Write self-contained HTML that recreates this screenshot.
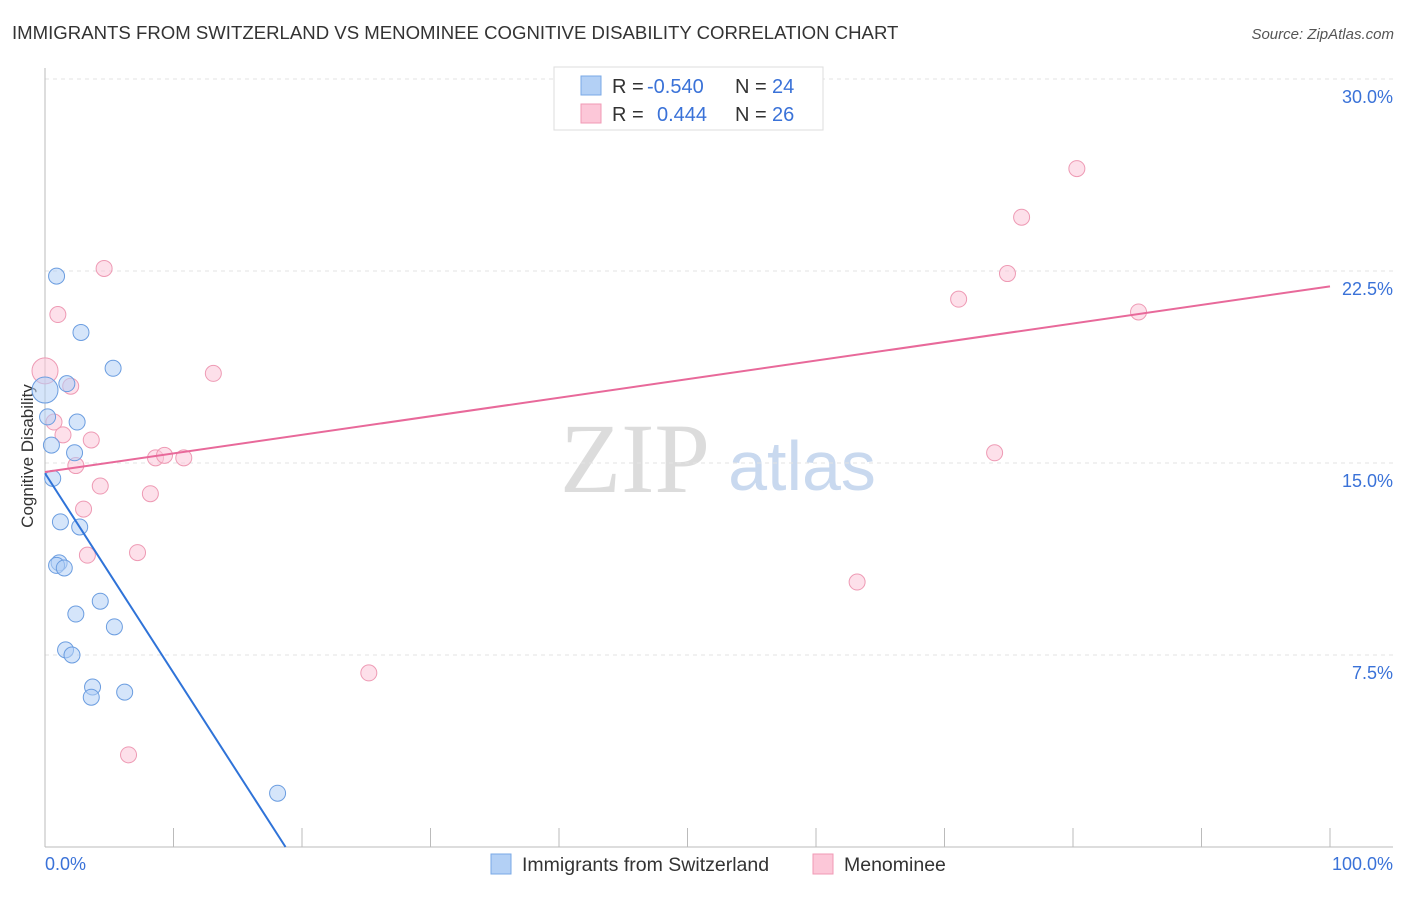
<!DOCTYPE html>
<html><head><meta charset="utf-8"><style>
body{margin:0;background:#fff;font-family:"Liberation Sans",sans-serif}
</style></head><body>
<svg width="1406" height="892" xmlns="http://www.w3.org/2000/svg" font-family="Liberation Sans, sans-serif">
<text x="12" y="39" font-size="18.6" fill="#333">IMMIGRANTS FROM SWITZERLAND VS MENOMINEE COGNITIVE DISABILITY CORRELATION CHART</text>
<text x="1394" y="39" font-size="15" fill="#555" text-anchor="end" font-style="italic">Source: ZipAtlas.com</text>
<text x="635" y="492" font-size="100" fill="#dcdcdc" style="font-family:'Liberation Serif',serif" text-anchor="middle">ZIP</text>
<text x="802" y="490" font-size="70" fill="#c9d9ef" text-anchor="middle">atlas</text>
<g id="grid"></g>
<g id="axes"></g>
<text x="33" y="456" font-size="17" fill="#333" text-anchor="middle" transform="rotate(-90 33 456)">Cognitive Disability</text>
<g id="marks"></g>
<g>
<rect x="554" y="67" width="269" height="63" fill="#fff" stroke="#ddd"/>
<rect x="581" y="76" width="20" height="19" fill="#b3d0f5" stroke="#7aa8e6"/>
<rect x="581" y="104" width="20" height="19" fill="#fcc7d8" stroke="#f09ab5"/>
<text x="612" y="93" font-size="20" fill="#333">R =</text>
<text x="647" y="93" font-size="20" fill="#3a72d8">-0.540</text>
<text x="735" y="93" font-size="20" fill="#333">N =</text>
<text x="772" y="93" font-size="20" fill="#3a72d8">24</text>
<text x="612" y="121" font-size="20" fill="#333">R =</text>
<text x="657" y="121" font-size="20" fill="#3a72d8">0.444</text>
<text x="735" y="121" font-size="20" fill="#333">N =</text>
<text x="772" y="121" font-size="20" fill="#3a72d8">26</text>
</g>
<g>
<rect x="491" y="854" width="20" height="20" fill="#b3d0f5" stroke="#7aa8e6"/>
<text x="522" y="871" font-size="19.5" fill="#333">Immigrants from Switzerland</text>
<rect x="813" y="854" width="20" height="20" fill="#fcc7d8" stroke="#f09ab5"/>
<text x="844" y="871" font-size="19.5" fill="#333">Menominee</text>
</g>
</svg>
<script>
const yTicks=[7.5,15,22.5,30];
const yTickLabels=["7.5%","15.0%","22.5%","30.0%"];
const blueX=[0.9,2.8,5.3,1.7,0,0.2,2.5,0.5,2.3,0.6,1.2,2.7,1.1,0.9,1.5,4.3,2.4,5.4,1.6,2.1,3.7,3.6,6.2,18.1];
const blueY=[22.3,20.1,18.7,18.1,17.85,16.8,16.6,15.7,15.4,14.4,12.7,12.5,11.1,11.0,10.9,9.6,9.1,8.6,7.7,7.5,6.25,5.85,6.05,2.1];
const pinkX=[4.6,1.0,0,13.1,2.0,0.7,1.4,3.6,2.4,8.6,9.3,10.8,4.3,8.2,3.0,3.3,7.2,6.5,25.2,63.2,71.1,74.9,76.0,80.3,85.1,73.9];
const pinkY=[22.6,20.8,18.6,18.5,18.0,16.6,16.1,15.9,14.9,15.2,15.3,15.2,14.1,13.8,13.2,11.4,11.5,3.6,6.8,10.35,21.4,22.4,24.6,26.5,20.9,15.4];
const blueLine=[14.6,-0.78];
const pinkLine=[14.65,0.0725];
const X=v=>45+v*12.85, Y=v=>847-v*25.6;
const NS="http://www.w3.org/2000/svg";
function mk(t,a,p){const e=document.createElementNS(NS,t);for(const k in a)e.setAttribute(k,a[k]);p.appendChild(e);return e;}
const grid=document.getElementById('grid'),axes=document.getElementById('axes'),marks=document.getElementById('marks');
yTicks.forEach((t,i)=>{
 const l=mk('line',{x1:45,x2:1393,y1:Y(t),y2:Y(t),stroke:'#e3e3e3','stroke-dasharray':'4,4'},grid);
 
 
 const tx=mk('text',{x:1393,y:Y(t)+24,'font-size':18,fill:'#3a72d8','text-anchor':'end'},grid);
 tx.textContent=yTickLabels[i];
 
 
});
let a=mk('line',{x1:45,x2:45,y1:68,y2:847,stroke:'#bbb'},axes);


a=mk('line',{x1:45,x2:1393,y1:847,y2:847,stroke:'#bbb'},axes);


for(let i=0;i<=10;i++){const t=mk('line',{x1:X(i*10),x2:X(i*10),y1:828,y2:847,stroke:'#bbb'},axes);
 
 }
let xl=mk('text',{x:45,y:870,'font-size':18,fill:'#3a72d8'},axes);xl.textContent='0.0%';


xl=mk('text',{x:1393,y:870,'font-size':18,fill:'#3a72d8','text-anchor':'end'},axes);xl.textContent='100.0%';


function pts(xs,ys,fill,stroke,name){xs.forEach((x,i)=>{const big=(x===0);
 const c=mk('circle',{cx:X(x),cy:Y(ys[i]),r:big?13:8,fill:fill,'fill-opacity':0.55,stroke:stroke,'stroke-width':1},marks);
 
 });}
pts(pinkX,pinkY,'#fcc7d8','#ee9ab4','pink-point');
pts(blueX,blueY,'#b3d0f5','#6b9de0','blue-point');
const bx2=(0-blueLine[0])/blueLine[1];
let ln=mk('line',{x1:X(0),y1:Y(blueLine[0]),x2:X(bx2),y2:Y(0),stroke:'#2f73d8','stroke-width':2},marks);


ln=mk('line',{x1:X(0),y1:Y(pinkLine[0]),x2:X(100),y2:Y(pinkLine[0]+pinkLine[1]*100),stroke:'#e8699a','stroke-width':2},marks);


</script>
</body></html>
